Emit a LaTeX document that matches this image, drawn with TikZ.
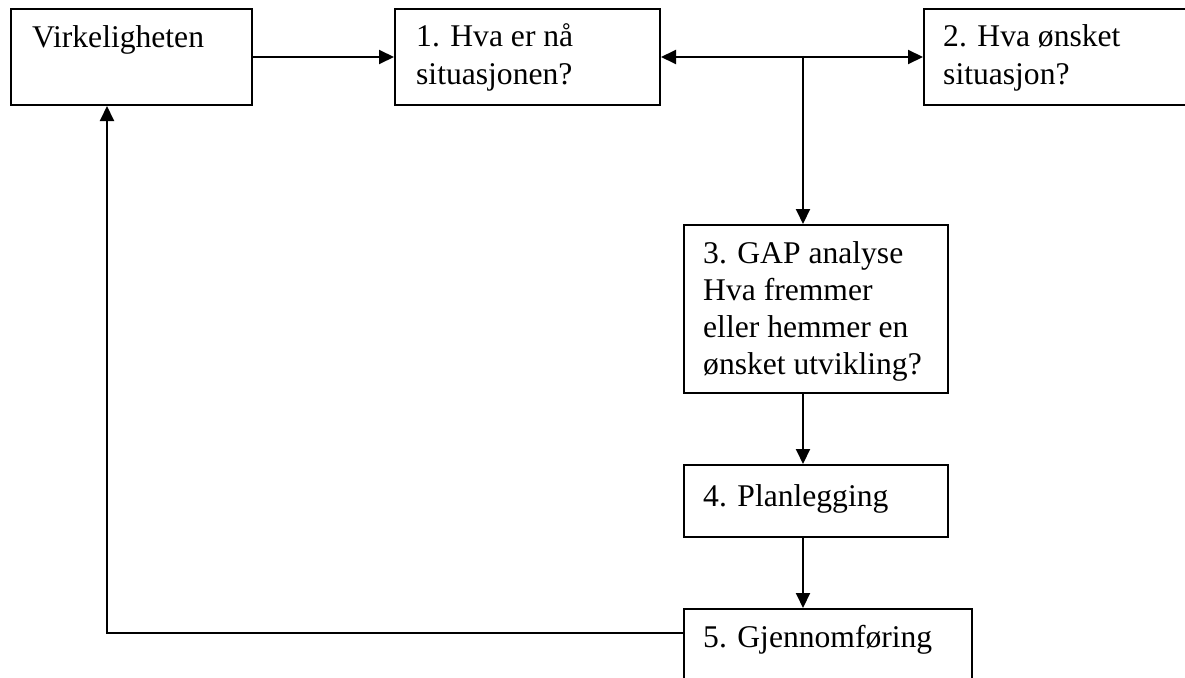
\documentclass[tikz,border=0pt]{standalone}
\usepackage{fontspec}
\setmainfont{Liberation Serif}
\usetikzlibrary{arrows.meta}

% multi-line label whose baseline is the first line
\newcommand{\firstlines}[1]{\begin{tabular}[t]{@{}l@{}}#1\end{tabular}}

\begin{document}
\begin{tikzpicture}[
  x=1pt, y=-1pt,
  box/.style={draw=black, line width=2pt, fill=white, rectangle, inner sep=0pt, anchor=north west},
  txt/.style={inner sep=0pt, anchor=base west, font=\fontsize{31.6}{37}\selectfont},
  arr/.style={line width=2pt, -{Triangle[length=15pt,width=14pt]}},
  darr/.style={line width=2pt, {Triangle[length=15pt,width=14pt]}-{Triangle[length=15pt,width=14pt]}}
]
\useasboundingbox (0,0) rectangle (1185,677);
\clip (0,0) rectangle (1185,677);
\fill[white] (0,0) rectangle (1185,677);

% boxes
\node[box, minimum width=241pt, minimum height=96pt] (virk) at (10,8) {};
\node[box, minimum width=265pt, minimum height=96pt] (b1) at (394,8) {};
\node[box, minimum width=290pt, minimum height=96pt] (b2) at (923,8) {};
\node[box, minimum width=264pt, minimum height=168pt] (b3) at (683,224) {};
\node[box, minimum width=264pt, minimum height=72pt] (b4) at (683,464) {};
\node[box, minimum width=288pt, minimum height=100pt] (b5) at (683,608) {};

% labels
\node[txt] (tvirk) at (32,48) {Virkeligheten};
\node[txt] (t1) at (416,47) {\firstlines{1. Hva er nå\\situasjonen?}};
\node[txt] (t2) at (943,47) {\firstlines{2. Hva ønsket\\situasjon?}};
\node[txt] (t3) at (703,263) {\firstlines{3. GAP analyse\\Hva fremmer\\eller hemmer en\\ønsket utvikling?}};
\node[txt] (t4) at (703,506) {4. Planlegging};
\node[txt] (t5) at (703,647) {5. Gjennomføring};

% connectors
\coordinate (j) at (803,56);
\coordinate (c) at (107,633);
\draw[arr] (virk.east) -- (b1.west);
\draw[darr] (b1.east) -- (b2.west);
\draw[arr] (j) -- (j |- b3.north);
\draw[arr] (j |- b3.south) -- (j |- b4.north);
\draw[arr] (j |- b4.south) -- (j |- b5.north);
\draw[arr] (b5.west |- c) -- (c) -- (c |- virk.south);
\end{tikzpicture}
\end{document}
